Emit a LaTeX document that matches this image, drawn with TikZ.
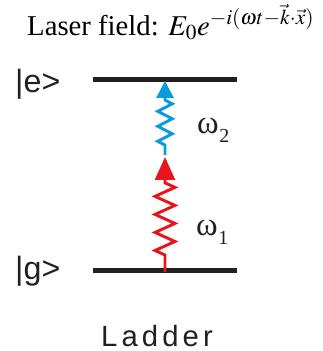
\documentclass[tikz,border=0pt]{standalone}
\usepackage{mathptmx}
\usepackage{fontspec}
\setmainfont{Liberation Serif}
\setsansfont{Liberation Sans}
\newfontfamily\ketfont{Liberation Sans}
\newfontfamily\capfont[LetterSpace=14]{Liberation Sans}
\usetikzlibrary{arrows.meta,decorations.pathmorphing}
\definecolor{LadRed}{HTML}{E8141C}
\definecolor{LadBlue}{HTML}{0A9BDC}
\definecolor{LadBlack}{HTML}{231F20}

\begin{document}
\begin{tikzpicture}[x=0.03cm,y=-0.03cm]

%% ── helpers ───────────────────────────────────────────────
\tikzset{
  level/.style={LadBlack,line width=4.3pt},
  photon/.style={draw=#1,line width=2.5pt,decorate},
  ket/.style={font=\ketfont\fontsize{27.5}{30}\selectfont,inner sep=0pt,anchor=base west,LadBlack},
  freq/.style={font=\fontsize{28}{30}\selectfont,inner sep=0pt,anchor=base west,LadBlack},
}
\newcommand{\freqsub}[1]{\kern0.5pt\raisebox{-8pt}{\fontsize{17}{17}\selectfont #1}}

\useasboundingbox (0,0) rectangle (322,351);

%% ── title ──
\node[inner sep=0pt,anchor=base west,font=\fontsize{24.5}{28}\selectfont] (title) at (27,35)
  {Laser field: $E_0e^{{-}i(\omega t{-}\vec{k}{\cdot}\vec{x})}$};

%% ── levels ──
\coordinate (eL) at (93,79.5);
\coordinate (eR) at (237,79.5);
\coordinate (gL) at (93,270.5);
\coordinate (gR) at (237,270.5);
\draw[level] (eL) -- (eR);
\draw[level] (gL) -- (gR);

\node[ket] (ket e) at (15,92) {|e>};
\node[ket] (ket g) at (15,279) {|g>};

%% ── photons ──
\coordinate (g0) at (165,272);
\coordinate (mid) at (165,157);
\coordinate (mid2) at (165,155);
\coordinate (e0) at (165,81);

\draw[photon=LadRed,-{Triangle[length=19.6pt,width=17pt]},
      decoration={zigzag,amplitude=8.5pt,segment length=15.4pt,
                  pre length=14.5pt,post length=19.6pt}] (g0) -- (mid);
\draw[photon=LadBlue,-{Triangle[length=14.5pt,width=14.5pt]},
      decoration={zigzag,amplitude=6.2pt,segment length=12.8pt,
                  pre length=8.5pt,post length=14.5pt}] (mid2) -- (e0);

\node[freq] (w2) at (197,133) {ω\freqsub{2}};
\node[freq] (w1) at (196,235) {ω\freqsub{1}};

%% ── caption ──
\node[inner sep=0pt,anchor=base,font=\capfont\fontsize{25}{30}\selectfont,LadBlack] (cap) at (157,346) {Ladder};

\end{tikzpicture}
\end{document}
